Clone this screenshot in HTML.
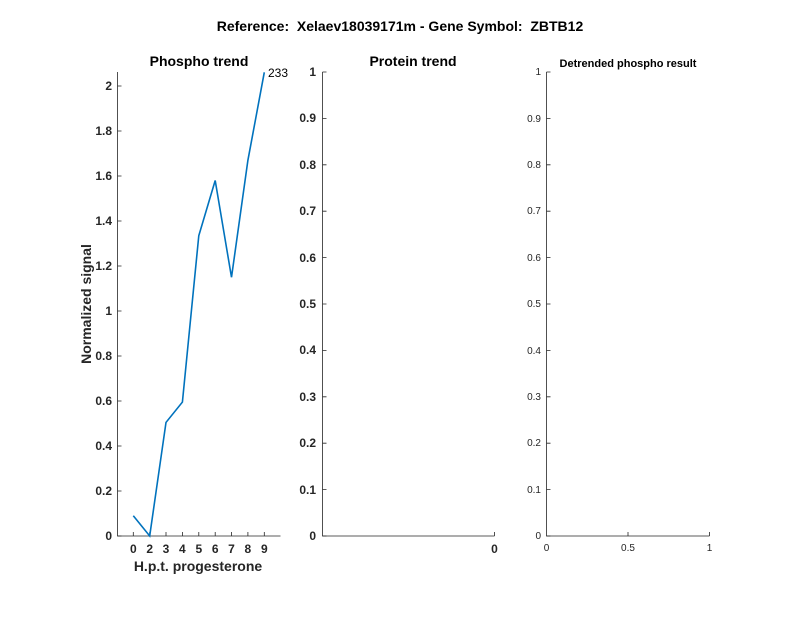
<!DOCTYPE html>
<html><head><style>body{margin:0;background:#fff}svg{display:block}</style></head><body>
<svg width="800" height="618" xmlns="http://www.w3.org/2000/svg" font-family="Liberation Sans, sans-serif">
<rect width="800" height="618" fill="#fff"/>
<text x="400" y="31" text-anchor="middle" font-size="14" font-weight="bold" fill="#000" xml:space="preserve">Reference:  Xelaev18039171m - Gene Symbol:  ZBTB12</text>
<g stroke="#262626" stroke-width="0.8" fill="none">
<path d="M117.5,72 V536 H280.5"/>
<path d="M322.5,72 V536 H494.5"/>
<path d="M546.5,72 V536 H709.5"/>
</g>
<g stroke="#262626" stroke-width="0.8">
<path d="M117.5,536h4M117.5,491h4M117.5,446h4M117.5,401h4M117.5,356h4M117.5,311h4M117.5,266h4M117.5,221h4M117.5,176h4M117.5,131h4M117.5,86h4"/>
<path d="M133.3,536v-4M149.7,536v-4M166,536v-4M182.4,536v-4M198.8,536v-4M215.2,536v-4M231.5,536v-4M247.9,536v-4M264.3,536v-4"/>
<path d="M322.5,536h4M322.5,489.6h4M322.5,443.2h4M322.5,396.8h4M322.5,350.4h4M322.5,304h4M322.5,257.6h4M322.5,211.2h4M322.5,164.8h4M322.5,118.4h4M322.5,72h4M494.5,536v-4"/>
<path d="M546.5,536h4M546.5,489.6h4M546.5,443.2h4M546.5,396.8h4M546.5,350.4h4M546.5,304h4M546.5,257.6h4M546.5,211.2h4M546.5,164.8h4M546.5,118.4h4M546.5,72h4M628,536v-4M709.5,536v-4"/>
</g>
<polyline fill="none" stroke="#0072BD" stroke-width="1.6" points="133.3,515.8 149.7,536 166,422.4 182.4,402.1 198.8,235.6 215.2,180.5 231.5,277.3 247.9,160.3 264.3,72.3"/>
<text x="268" y="77" font-size="12" fill="#000">233</text>
<g font-size="12" font-weight="bold" fill="#262626" text-anchor="end">
<text x="112" y="540">0</text><text x="112" y="495">0.2</text><text x="112" y="450">0.4</text><text x="112" y="405">0.6</text><text x="112" y="360">0.8</text><text x="112" y="315">1</text><text x="112" y="270">1.2</text><text x="112" y="225">1.4</text><text x="112" y="180">1.6</text><text x="112" y="135">1.8</text><text x="112" y="90">2</text>
<text x="316" y="540">0</text><text x="316" y="494">0.1</text><text x="316" y="447">0.2</text><text x="316" y="401">0.3</text><text x="316" y="354">0.4</text><text x="316" y="308">0.5</text><text x="316" y="262">0.6</text><text x="316" y="215">0.7</text><text x="316" y="169">0.8</text><text x="316" y="122">0.9</text><text x="316" y="76">1</text>
</g>
<g font-size="12" font-weight="bold" fill="#262626" text-anchor="middle">
<text x="133.3" y="553">0</text><text x="149.7" y="553">2</text><text x="166" y="553">3</text><text x="182.4" y="553">4</text><text x="198.8" y="553">5</text><text x="215.2" y="553">6</text><text x="231.5" y="553">7</text><text x="247.9" y="553">8</text><text x="264.3" y="553">9</text>
<text x="494.5" y="553">0</text>
</g>
<g font-size="10" fill="#262626" text-anchor="end">
<text x="541" y="539">0</text><text x="541" y="493">0.1</text><text x="541" y="446">0.2</text><text x="541" y="400">0.3</text><text x="541" y="354">0.4</text><text x="541" y="307">0.5</text><text x="541" y="261">0.6</text><text x="541" y="214">0.7</text><text x="541" y="168">0.8</text><text x="541" y="122">0.9</text><text x="541" y="75">1</text>
</g>
<g font-size="10" fill="#262626" text-anchor="middle">
<text x="546.5" y="551">0</text><text x="628" y="551">0.5</text><text x="709.5" y="551">1</text>
</g>
<g font-weight="bold" fill="#000" text-anchor="middle">
<text x="199" y="66" font-size="14">Phospho trend</text>
<text x="413" y="66" font-size="14">Protein trend</text>
<text x="628" y="67" font-size="11">Detrended phospho result</text>
<text x="198" y="571" font-size="14" fill="#262626">H.p.t. progesterone</text>
<text transform="translate(91,304) rotate(-90)" font-size="14" fill="#262626">Normalized signal</text>
</g>
</svg>
</body></html>
